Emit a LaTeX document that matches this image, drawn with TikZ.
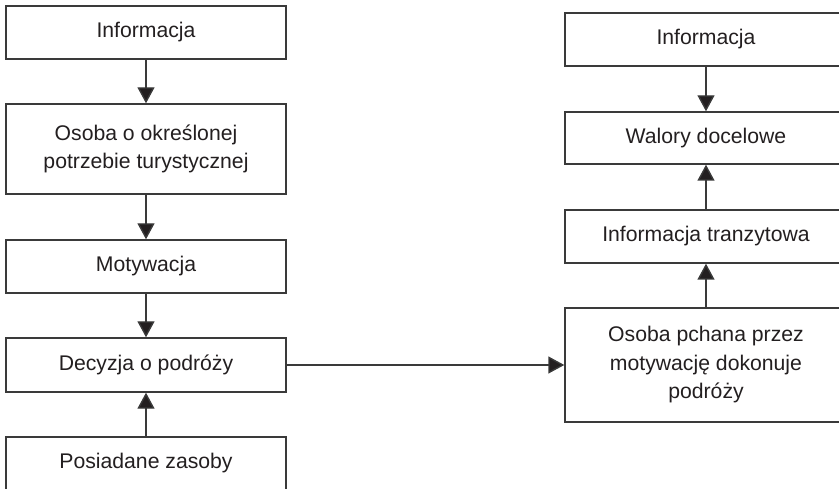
\documentclass[tikz,border=0pt]{standalone}
\usepackage{fontspec}
\setmainfont{Liberation Sans}
\usetikzlibrary{arrows.meta}
\definecolor{edge}{HTML}{3A3A3A}
\definecolor{ink}{HTML}{231F20}
\begin{document}
\begin{tikzpicture}[x=1pt,y=-1pt,
  box/.style={draw=edge,line width=1.4pt,fill=white,text=ink,
    minimum width=280pt,inner sep=0pt,align=center,
    font=\fontsize{21.2pt}{28.5pt}\selectfont},
  link/.style={draw=edge,line width=1.4pt,
    -{Triangle[length=16pt,width=17pt,fill=ink]}}]
  \useasboundingbox (0,0) rectangle (839,489);
  \clip (0,0) rectangle (839,489);
  % left column
  \node[box,minimum height=53pt] (info) at (146,32.5) {Informacja};
  \node[box,minimum height=90pt] (osoba) at (146,149) {Osoba o określonej\\potrzebie turystycznej};
  \node[box,minimum height=53pt] (motyw) at (146,266.5) {Motywacja};
  \node[box,minimum height=54pt] (decyzja) at (146,365) {Decyzja o podróży};
  \node[box,minimum height=53pt] (zasoby) at (146,463.5) {Posiadane zasoby};
  % right column (runs past the right edge)
  \node[box,minimum width=282pt,minimum height=53pt] (info2) at (706,39.5) {Informacja};
  \node[box,minimum width=282pt,minimum height=52pt] (walory) at (706,138) {Walory docelowe};
  \node[box,minimum width=282pt,minimum height=53pt] (tranzyt) at (706,236.5) {Informacja tranzytowa};
  \node[box,minimum width=282pt,minimum height=114pt] (podroz) at (706,365) {Osoba pchana przez\\motywację dokonuje\\podróży};
  % connectors
  \draw[link] (info) -- (osoba);
  \draw[link] (osoba) -- (motyw);
  \draw[link] (motyw) -- (decyzja);
  \draw[link] (zasoby) -- (decyzja);
  \draw[link] (decyzja) -- (podroz);
  \draw[link] (info2) -- (walory);
  \draw[link] (tranzyt) -- (walory);
  \draw[link] (podroz) -- (tranzyt);
\end{tikzpicture}
\end{document}
